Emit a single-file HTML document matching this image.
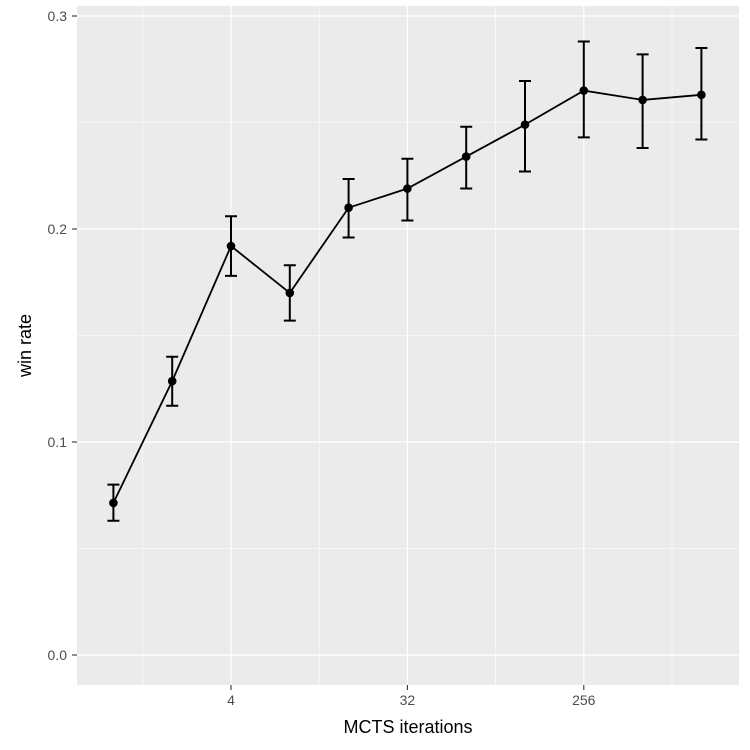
<!DOCTYPE html>
<html><head><meta charset="utf-8"><style>
body{margin:0;background:#fff;}
svg{display:block;font-family:"Liberation Sans",Arial,sans-serif;}
</style></head><body>
<svg id="chart" width="750" height="750"></svg>
<script>
const iterations=[1,2,4,8,16,32,64,128,256,512,1024];
const winRate=[0.0714,0.1286,0.192,0.170,0.210,0.219,0.234,0.249,0.265,0.2606,0.263];
const errLow=[0.063,0.117,0.178,0.157,0.196,0.204,0.219,0.227,0.243,0.238,0.242];
const errHigh=[0.080,0.140,0.206,0.183,0.2235,0.233,0.248,0.2695,0.288,0.282,0.285];
const xTicks=[4,32,256];
const yTicks=[0,0.1,0.2,0.3];
const yMinor=[0.05,0.15,0.25];

const NS="http://www.w3.org/2000/svg";
const svg=document.getElementById('chart');
const L=77,R=739,T=6,B=685;
const xs=v=>231+(Math.log2(v)-2)*58.8;
const ys=v=>655-v*2130;
function mk(tag,attrs,parent){const e=document.createElementNS(NS,tag);for(const k in attrs)e.setAttribute(k,attrs[k]);(parent||svg).appendChild(e);return e;}

const panel=mk('rect',{x:L,y:T,width:R-L,height:B-T,fill:'#ebebeb'});


yMinor.forEach(v=>{const g=mk('line',{x1:L,x2:R,y1:ys(v),y2:ys(v),stroke:'#fff','stroke-width':0.6});

});
xTicks.forEach(v=>{const m=v*Math.pow(2,-1.5);const g=mk('line',{x1:xs(m),x2:xs(m),y1:T,y2:B,stroke:'#fff','stroke-width':0.6});

});
{const m=xTicks[xTicks.length-1]*Math.pow(2,1.5);const g=mk('line',{x1:xs(m),x2:xs(m),y1:T,y2:B,stroke:'#fff','stroke-width':0.6});

}
yTicks.forEach(v=>{const y=ys(v);
const g=mk('line',{x1:L,x2:R,y1:y,y2:y,stroke:'#fff','stroke-width':1.2});


const t=mk('line',{x1:72,x2:L,y1:y,y2:y,stroke:'#333','stroke-width':1.1});


const l=mk('text',{x:67,y:y+5,'text-anchor':'end','font-size':14,fill:'#4d4d4d'});l.textContent=v.toFixed(1);

});
xTicks.forEach(v=>{const x=xs(v);
const g=mk('line',{x1:x,x2:x,y1:T,y2:B,stroke:'#fff','stroke-width':1.2});


const t=mk('line',{x1:x,x2:x,y1:B,y2:B+5,stroke:'#333','stroke-width':1.1});


const l=mk('text',{x:x,y:B+20,'text-anchor':'middle','font-size':14,fill:'#4d4d4d'});l.textContent=v;

});

iterations.forEach((v,i)=>{const x=xs(v);
const eb=mk('path',{d:`M${x-6},${ys(errHigh[i])}H${x+6}M${x},${ys(errHigh[i])}V${ys(errLow[i])}M${x-6},${ys(errLow[i])}H${x+6}`,stroke:'#000','stroke-width':2,fill:'none'});

});
const line=mk('polyline',{points:iterations.map((v,i)=>xs(v)+','+ys(winRate[i])).join(' '),fill:'none',stroke:'#000','stroke-width':1.8});


iterations.forEach((v,i)=>{const c=mk('circle',{cx:xs(v),cy:ys(winRate[i]),r:4.3,fill:'#000'});

});

const xt=mk('text',{x:(L+R)/2,y:733,'text-anchor':'middle','font-size':18,fill:'#000'});xt.textContent='MCTS iterations';


const yt=mk('text',{x:0,y:0,'text-anchor':'middle','font-size':18,fill:'#000',transform:`translate(31,${(T+B)/2}) rotate(-90)`});yt.textContent='win rate';


</script>
</body></html>
